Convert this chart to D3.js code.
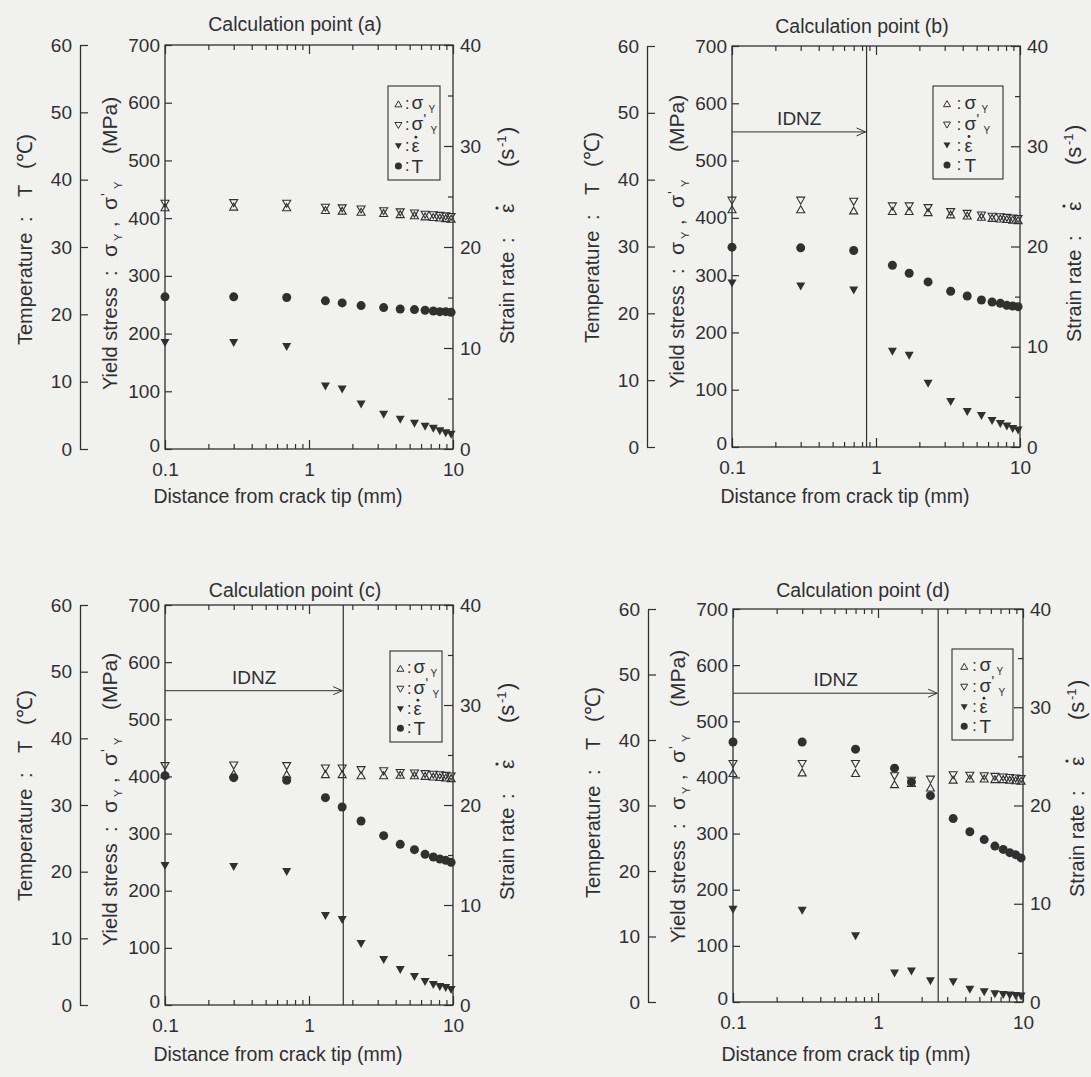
<!DOCTYPE html>
<html>
<head>
<meta charset="utf-8">
<script src="https://cdn.jsdelivr.net/npm/d3@7"></script>
<style>
  html, body { margin: 0; padding: 0; background: #f1f1f0; }
  svg { display: block; font-family: "Liberation Sans", Arial, Helvetica, sans-serif; }
</style>
</head>
<body>
<svg id="fig" width="1091" height="1077"></svg>
<script>
// Distance from the crack tip (mm) of each calculation node
const distance = [0.1, 0.3, 0.7, 1.3, 1.7, 2.3, 3.3, 4.3, 5.4, 6.4, 7.3, 8.1, 8.9, 9.7];

// Calculation point (a)
const sigmaY_a  = [419, 420, 419, 414, 413, 411, 409, 407, 405, 403, 402, 401, 400, 399];
const sigmaYp_a = [425, 426, 425, 418, 417, 415, 412, 410, 408, 406, 405, 404, 403, 402];
const strain_a  = [10.5, 10.5, 10.1, 6.2, 5.9, 4.4, 3.4, 2.9, 2.5, 2.2, 2.0, 1.75, 1.55, 1.4];
const temp_a    = [22.6, 22.6, 22.5, 22.0, 21.7, 21.3, 21.0, 20.8, 20.7, 20.6, 20.5, 20.4, 20.4, 20.3];

// Calculation point (b)
const sigmaY_b  = [415, 415, 413, 412, 412, 410, 406, 404, 402, 400, 399, 398, 397, 396];
const sigmaYp_b = [430, 430, 428, 420, 420, 417, 410, 407, 404, 402, 401, 400, 399, 398];
const strain_b  = [16.3, 16.0, 15.6, 9.5, 9.1, 6.3, 4.5, 3.5, 3.1, 2.6, 2.3, 2.05, 1.8, 1.65];
const temp_b    = [29.9, 29.8, 29.4, 27.2, 26.0, 24.7, 23.3, 22.6, 22.0, 21.7, 21.5, 21.2, 21.1, 21.0];

// Calculation point (c)
const sigmaY_c  = [404, 405, 404, 404, 404, 402, 402, 403, 402, 401, 400, 399, 398, 397];
const sigmaYp_c = [418, 419, 418, 414, 414, 411, 409, 406, 405, 404, 403, 402, 401, 400];
const strain_c  = [13.9, 13.8, 13.3, 8.9, 8.5, 6.1, 4.5, 3.5, 2.8, 2.3, 2.0, 1.8, 1.7, 1.5];
const temp_c    = [34.4, 34.1, 33.7, 31.1, 29.7, 27.6, 25.4, 24.1, 23.3, 22.6, 22.2, 21.9, 21.7, 21.4];

// Calculation point (d)
const sigmaY_d  = [408, 409, 408, 388, 390, 382, 396, 398, 398, 397, 397, 396, 395, 394];
const sigmaYp_d = [424, 424, 424, 402, 394, 396, 404, 403, 402, 401, 400, 399, 398, 397];
const strain_d  = [9.4, 9.3, 6.7, 2.9, 3.1, 2.1, 2.0, 1.25, 1.0, 0.8, 0.7, 0.65, 0.6, 0.55];
const temp_d    = [39.7, 39.7, 38.6, 35.7, 33.6, 31.5, 28.0, 26.0, 24.8, 23.8, 23.3, 22.8, 22.5, 22.0];

// Extent of the IDNZ zone (mm) and the stress level of its arrow (MPa)
const idnzEnd = [null, 0.86, 1.73, 2.6];
const idnzLevel = 550;

const panelLabels = ["(a)", "(b)", "(c)", "(d)"];
const stressTicks = [0, 100, 200, 300, 400, 500, 600, 700];
const tempTicks = [0, 10, 20, 30, 40, 50, 60];
const strainTicks = [0, 10, 20, 30, 40];
const strainMinorTicks = [5, 15, 25, 35];
const distanceTicks = [0.1, 1, 10];
const distanceMinorTicks = [0.2, 0.3, 0.4, 0.5, 0.6, 0.7, 0.8, 0.9, 2, 3, 4, 5, 6, 7, 8, 9];

const seriesByPanel = [
  { sy: sigmaY_a, syp: sigmaYp_a, strain: strain_a, temp: temp_a },
  { sy: sigmaY_b, syp: sigmaYp_b, strain: strain_b, temp: temp_b },
  { sy: sigmaY_c, syp: sigmaYp_c, strain: strain_c, temp: temp_c },
  { sy: sigmaY_d, syp: sigmaYp_d, strain: strain_d, temp: temp_d }
];

// Page placement of the four plots
const frames = [
  { left: 165, right: 453, top: 45,  bottom: 449,  titleY: 24,  xlabY: 496,  legend: { x: 388, y: 86,  w: 52, h: 94 } },
  { left: 732, right: 1020, top: 46, bottom: 447,  titleY: 26,  xlabY: 496,  legend: { x: 933, y: 86,  w: 70, h: 93 } },
  { left: 165, right: 453, top: 605, bottom: 1005, titleY: 590, xlabY: 1054, legend: { x: 390, y: 651, w: 52, h: 91 } },
  { left: 733, right: 1023, top: 609, bottom: 1002, titleY: 590, xlabY: 1054, legend: { x: 952, y: 649, w: 61, h: 91 } }
];

const ink = "#303030";
const svg = d3.select("#fig");

const triUp = (w, h) => `M0,${-h / 2}L${w / 2},${h / 2}L${-w / 2},${h / 2}Z`;
const triDown = (w, h) => `M${-w / 2},${-h / 2}L${w / 2},${-h / 2}L0,${h / 2}Z`;

function finishAxis(sel, keepDomain) {
  sel.attr("font-size", null).attr("font-family", null);
  if (keepDomain) sel.select(".domain").attr("stroke", ink).attr("stroke-width", 1.3);
  else sel.select(".domain").remove();
  sel.selectAll(".tick line").attr("stroke", ink).attr("stroke-width", 1.2);
  sel.selectAll(".tick text").attr("fill", ink).attr("font-size", 19);
}

// Rotated axis title built from pieces placed along the reading direction
function rotatedTitle(parent, cx, startY, parts) {
  const g = parent.append("g").attr("transform", `translate(${cx},${startY}) rotate(-90)`);
  parts.forEach(p => {
    if (p.dot) {
      g.append("circle").attr("cx", p.at).attr("cy", p.dy).attr("r", 1.6).attr("fill", ink);
      return;
    }
    g.append("text")
      .attr("x", p.at)
      .attr("y", 7 + (p.dy || 0))
      .attr("font-size", p.size || 20)
      .attr("fill", ink)
      .text(p.t);
  });
}

function drawPanel(i) {
  const f = frames[i];
  const s = seriesByPanel[i];
  const g = svg.append("g");

  const x = d3.scaleLog().domain([0.1, 10]).range([f.left, f.right]);
  const yS = d3.scaleLinear().domain([0, 700]).range([f.bottom, f.top]);
  const yT = d3.scaleLinear().domain([0, 60]).range([f.bottom, f.top]);
  const yE = d3.scaleLinear().domain([0, 40]).range([f.bottom, f.top]);

  // Axes
  g.append("g").attr("transform", `translate(${f.left},0)`)
    .call(d3.axisLeft(yS).tickValues(stressTicks).tickSizeInner(-7).tickSizeOuter(0).tickPadding(5))
    .call(a => finishAxis(a, false))
    .call(a => a.selectAll(".tick text").filter(d => d === 0).attr("dy", "0.15em"));

  g.append("g").attr("transform", `translate(${f.left - 85},0)`)
    .call(d3.axisLeft(yT).tickValues(tempTicks).tickSizeInner(-8).tickSizeOuter(0).tickPadding(8))
    .call(a => finishAxis(a, true));

  g.append("g").attr("transform", `translate(${f.right},0)`)
    .call(d3.axisRight(yE).tickValues(strainTicks).tickSizeInner(-9).tickSizeOuter(0).tickPadding(7))
    .call(a => finishAxis(a, false));
  g.append("g").attr("transform", `translate(${f.right},0)`)
    .call(d3.axisRight(yE).tickValues(strainMinorTicks).tickSize(-5).tickFormat(""))
    .call(a => finishAxis(a, false));

  g.append("g").attr("transform", `translate(0,${f.bottom})`)
    .call(d3.axisBottom(x).tickValues(distanceTicks).tickSizeInner(-9).tickSizeOuter(0).tickPadding(14)
      .tickFormat(d => d < 1 ? "0.1" : String(d)))
    .call(a => finishAxis(a, false));
  g.append("g").attr("transform", `translate(0,${f.bottom})`)
    .call(d3.axisBottom(x).tickValues(distanceMinorTicks).tickSize(-5).tickFormat(""))
    .call(a => finishAxis(a, false));
  g.append("g").attr("transform", `translate(0,${f.top})`)
    .call(d3.axisTop(x).tickValues(distanceTicks).tickSize(-9).tickFormat(""))
    .call(a => finishAxis(a, false));
  g.append("g").attr("transform", `translate(0,${f.top})`)
    .call(d3.axisTop(x).tickValues(distanceMinorTicks).tickSize(-5).tickFormat(""))
    .call(a => finishAxis(a, false));

  // Plot frame
  g.append("rect")
    .attr("x", f.left).attr("y", f.top)
    .attr("width", f.right - f.left).attr("height", f.bottom - f.top)
    .attr("fill", "none").attr("stroke", ink).attr("stroke-width", 1.3);

  // IDNZ zone boundary and arrow
  if (idnzEnd[i] !== null) {
    const xe = x(idnzEnd[i]);
    const ya = yS(idnzLevel);
    g.append("line").attr("x1", xe).attr("x2", xe).attr("y1", f.top).attr("y2", f.bottom)
      .attr("stroke", ink).attr("stroke-width", 1.2);
    g.append("line").attr("x1", f.left).attr("x2", xe - 1).attr("y1", ya).attr("y2", ya)
      .attr("stroke", ink).attr("stroke-width", 1);
    g.append("path").attr("d", `M${xe - 10},${ya - 4}L${xe - 1},${ya}L${xe - 10},${ya + 4}`)
      .attr("fill", "none").attr("stroke", ink).attr("stroke-width", 1);
    g.append("text").attr("x", (f.left + xe) / 2).attr("y", ya - 7)
      .attr("text-anchor", "middle").attr("font-size", 19).attr("fill", ink).text("IDNZ");
  }

  // Data marks
  const pts = key => distance.map((d, k) => ({ d, v: s[key][k] }));
  g.append("g").selectAll("circle").data(pts("temp")).join("circle")
    .attr("cx", p => x(p.d)).attr("cy", p => yT(p.v)).attr("r", 4.5).attr("fill", ink);
  g.append("g").selectAll("path").data(pts("strain")).join("path")
    .attr("d", triDown(9, 8))
    .attr("transform", p => `translate(${x(p.d)},${yE(p.v)})`).attr("fill", ink);
  g.append("g").selectAll("path").data(pts("syp")).join("path")
    .attr("d", triDown(8, 7))
    .attr("transform", p => `translate(${x(p.d)},${yS(p.v)})`)
    .attr("fill", "none").attr("stroke", ink).attr("stroke-width", 1.1);
  g.append("g").selectAll("path").data(pts("sy")).join("path")
    .attr("d", triUp(8, 7))
    .attr("transform", p => `translate(${x(p.d)},${yS(p.v)})`)
    .attr("fill", "none").attr("stroke", ink).attr("stroke-width", 1.1);

  // Legend
  const L = f.legend;
  const lg = g.append("g");
  lg.append("rect").attr("x", L.x).attr("y", L.y).attr("width", L.w).attr("height", L.h)
    .attr("fill", "none").attr("stroke", ink).attr("stroke-width", 1.1);
  const rows = [0.19, 0.42, 0.64, 0.85].map(r => L.y + L.h * r);
  const sx = L.x + L.w * 0.2, cx = L.x + L.w * 0.37, tx = L.x + L.w * 0.45;
  lg.append("path").attr("d", triUp(7, 6)).attr("transform", `translate(${sx},${rows[0]})`)
    .attr("fill", "none").attr("stroke", ink).attr("stroke-width", 1);
  lg.append("path").attr("d", triDown(7, 6)).attr("transform", `translate(${sx},${rows[1]})`)
    .attr("fill", "none").attr("stroke", ink).attr("stroke-width", 1);
  lg.append("path").attr("d", triDown(7, 6)).attr("transform", `translate(${sx},${rows[2]})`)
    .attr("fill", ink);
  lg.append("circle").attr("cx", sx).attr("cy", rows[3]).attr("r", 3.5).attr("fill", ink);
  rows.forEach(ry => lg.append("text").attr("x", cx).attr("y", ry + 5).attr("text-anchor", "middle")
    .attr("font-size", 16).attr("fill", ink).text(":"));
  const txt = (xx, yy, t, size) => lg.append("text").attr("x", xx).attr("y", yy)
    .attr("font-size", size).attr("fill", ink).text(t);
  txt(tx, rows[0] + 5, "σ", 19);
  txt(tx + 17, rows[0] + 9, "Y", 10);
  txt(tx, rows[1] + 5, "σ", 19);
  txt(tx + 12, rows[1] - 1, "'", 14);
  txt(tx + 19, rows[1] + 9, "Y", 10);
  txt(tx, rows[2] + 6, "ε", 18);
  lg.append("circle").attr("cx", tx + 4.5).attr("cy", rows[2] - 9).attr("r", 1.4).attr("fill", ink);
  txt(tx, rows[3] + 7, "T", 19);

  // Titles
  g.append("text").attr("x", f.left + 130).attr("y", f.titleY + 7).attr("text-anchor", "middle")
    .attr("font-size", 19.5).attr("fill", ink).text("Calculation point " + panelLabels[i]);
  g.append("text").attr("x", f.left + 113).attr("y", f.xlabY + 7).attr("text-anchor", "middle")
    .attr("font-size", 19.5).attr("fill", ink).text("Distance from crack tip (mm)");

  rotatedTitle(g, f.left - 140, f.bottom - 104, [
    { t: "Temperature", at: 0 },
    { t: ":", at: 123 },
    { t: "T", at: 148 },
    { t: "(℃)", at: 176, size: 21 }
  ]);
  rotatedTitle(g, f.left - 55, f.bottom - 59, [
    { t: "Yield stress", at: 0 },
    { t: ":", at: 114 },
    { t: "σ", at: 133, size: 21 },
    { t: "Y", at: 149, size: 11, dy: 5 },
    { t: ",", at: 163 },
    { t: "σ", at: 180, size: 21 },
    { t: "'", at: 194, size: 15, dy: -6 },
    { t: "Y", at: 201, size: 11, dy: 5 },
    { t: "(MPa)", at: 236, size: 21 }
  ]);
  rotatedTitle(g, f.right + 54, f.bottom - 105, [
    { t: "Strain rate", at: 0 },
    { t: ":", at: 101 },
    { t: "ε", at: 131, size: 21 },
    { dot: true, at: 136, dy: -10 },
    { t: "(s", at: 177, size: 22 },
    { t: "-1", at: 197, size: 13, dy: -8 },
    { t: ")", at: 210, size: 22 }
  ]);
}

[0, 1, 2, 3].forEach(drawPanel);
</script>
</body>
</html>
